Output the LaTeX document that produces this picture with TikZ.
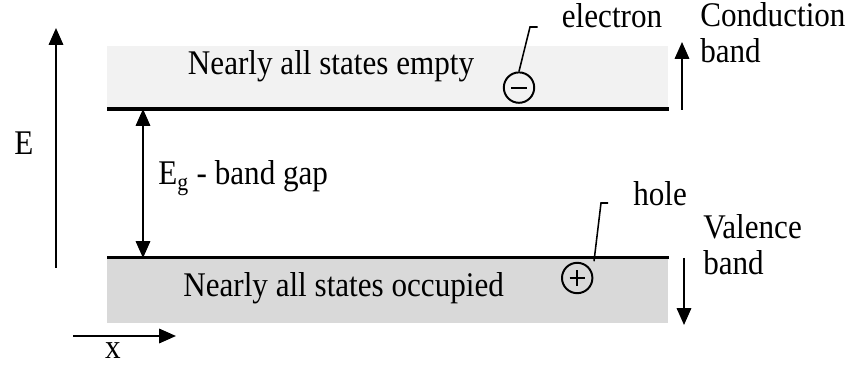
\documentclass[tikz,border=0pt]{standalone}
\usepackage{fontspec}
\setmainfont[FakeStretch=0.9]{Liberation Serif}
\usetikzlibrary{arrows.meta, positioning}

\tikzset{
    bandbox/.style={draw=none, inner sep=0pt, anchor=south west, minimum width=14.025cm},
    bandline/.style={line width=2.3pt},
    bigarrow/.style={line width=1.3pt, -{Triangle[length=0.42cm, width=0.36cm]}},
    gaparrow/.style={line width=1.3pt, {Triangle[length=0.42cm, width=0.36cm]}-{Triangle[length=0.42cm, width=0.36cm]}},
    leader/.style={line width=1.1pt},
    charge/.style={circle, draw, line width=1.4pt, minimum size=0.76cm, inner sep=0pt},
    txt/.style={inner sep=0pt, anchor=base},
}

\begin{document}
\begin{tikzpicture}[font=\fontsize{24.6}{26.2}\selectfont]

    \useasboundingbox (0,0) rectangle (21.275,9.15);

    % -------------------------------------------------------------
    % BANDS
    % -------------------------------------------------------------

    % Conduction band (light)
    \node[bandbox, fill=black!5, minimum height=1.575cm] (cb) at (2.675,6.425) {};
    \draw[bandline] (cb.south west) -- (cb.south east);
    \node[txt] (empty) at (8.275,7.275) {Nearly all states empty};

    % Valence band (darker)
    \node[bandbox, fill=black!15, minimum height=1.625cm] (vb) at (2.675,1.075) {};
    \draw[bandline] (vb.north west) -- (vb.north east);
    \node[txt] (occupied) at (8.59,1.725) {Nearly all states occupied};

    % -------------------------------------------------------------
    % AXES
    % -------------------------------------------------------------

    \coordinate (Ebot) at (1.4,2.45);
    \coordinate (Etop) at (1.4,8.45);
    \draw[bigarrow] (Ebot) -- (Etop);
    \node[txt] (Elabel) at (0.6,5.275) {E};

    \coordinate (xleft) at (1.825,0.75);
    \coordinate (xright) at (4.4,0.75);
    \draw[bigarrow] (xleft) -- (xright);
    \node[txt] (xlabel) at (2.825,0.18) {x};

    % -------------------------------------------------------------
    % BAND GAP
    % -------------------------------------------------------------

    \coordinate (gtop) at (3.575,6.425);
    \coordinate (gbot) at (3.575,2.7);
    \draw[gaparrow] (gtop) -- (gbot);
    \node[txt, anchor=base west] (gap) at (3.95,4.525) {E\textsubscript{g} - band gap};

    % -------------------------------------------------------------
    % CARRIERS
    % -------------------------------------------------------------

    % Electron
    \node[charge, path picture={\draw[line width=1.4pt]
        ([xshift=-0.19cm]path picture bounding box.center) --
        ([xshift=0.19cm]path picture bounding box.center);}] (el) at (12.975,6.96) {};
    \coordinate (elbend) at (13.25,8.475);
    \coordinate (eltick) at (13.44,8.475);
    \draw[leader] (el.north) -- (elbend) -- (eltick);
    \node[txt] (electron) at (15.3,8.45) {electron};

    % Hole
    \node[charge, path picture={\draw[line width=1.4pt]
        ([xshift=-0.19cm]path picture bounding box.center) --
        ([xshift=0.19cm]path picture bounding box.center)
        ([yshift=-0.19cm]path picture bounding box.center) --
        ([yshift=0.19cm]path picture bounding box.center);}] (h) at (14.43,2.2) {};
    \coordinate (hfoot) at (14.85,2.62);
    \coordinate (hbend) at (15.025,4.075);
    \coordinate (htick) at (15.2,4.075);
    \draw[leader] (hfoot) -- (hbend) -- (htick);
    \node[txt, anchor=base west] (hole) at (15.825,4.0) {hole};

    % -------------------------------------------------------------
    % BAND LABELS
    % -------------------------------------------------------------

    \coordinate (cbot) at (17.05,6.4);
    \coordinate (ctop) at (17.05,8.1);
    \draw[bigarrow] (cbot) -- (ctop);
    \node[txt, anchor=base west, align=left] (cond) at (17.5,7.575) {Conduction\\band};

    \coordinate (vtop) at (17.1,2.7);
    \coordinate (vbot) at (17.1,1.025);
    \draw[bigarrow] (vtop) -- (vbot);
    \node[txt, anchor=base west, align=left] (val) at (17.575,2.275) {Valence\\band};

\end{tikzpicture}
\end{document}
